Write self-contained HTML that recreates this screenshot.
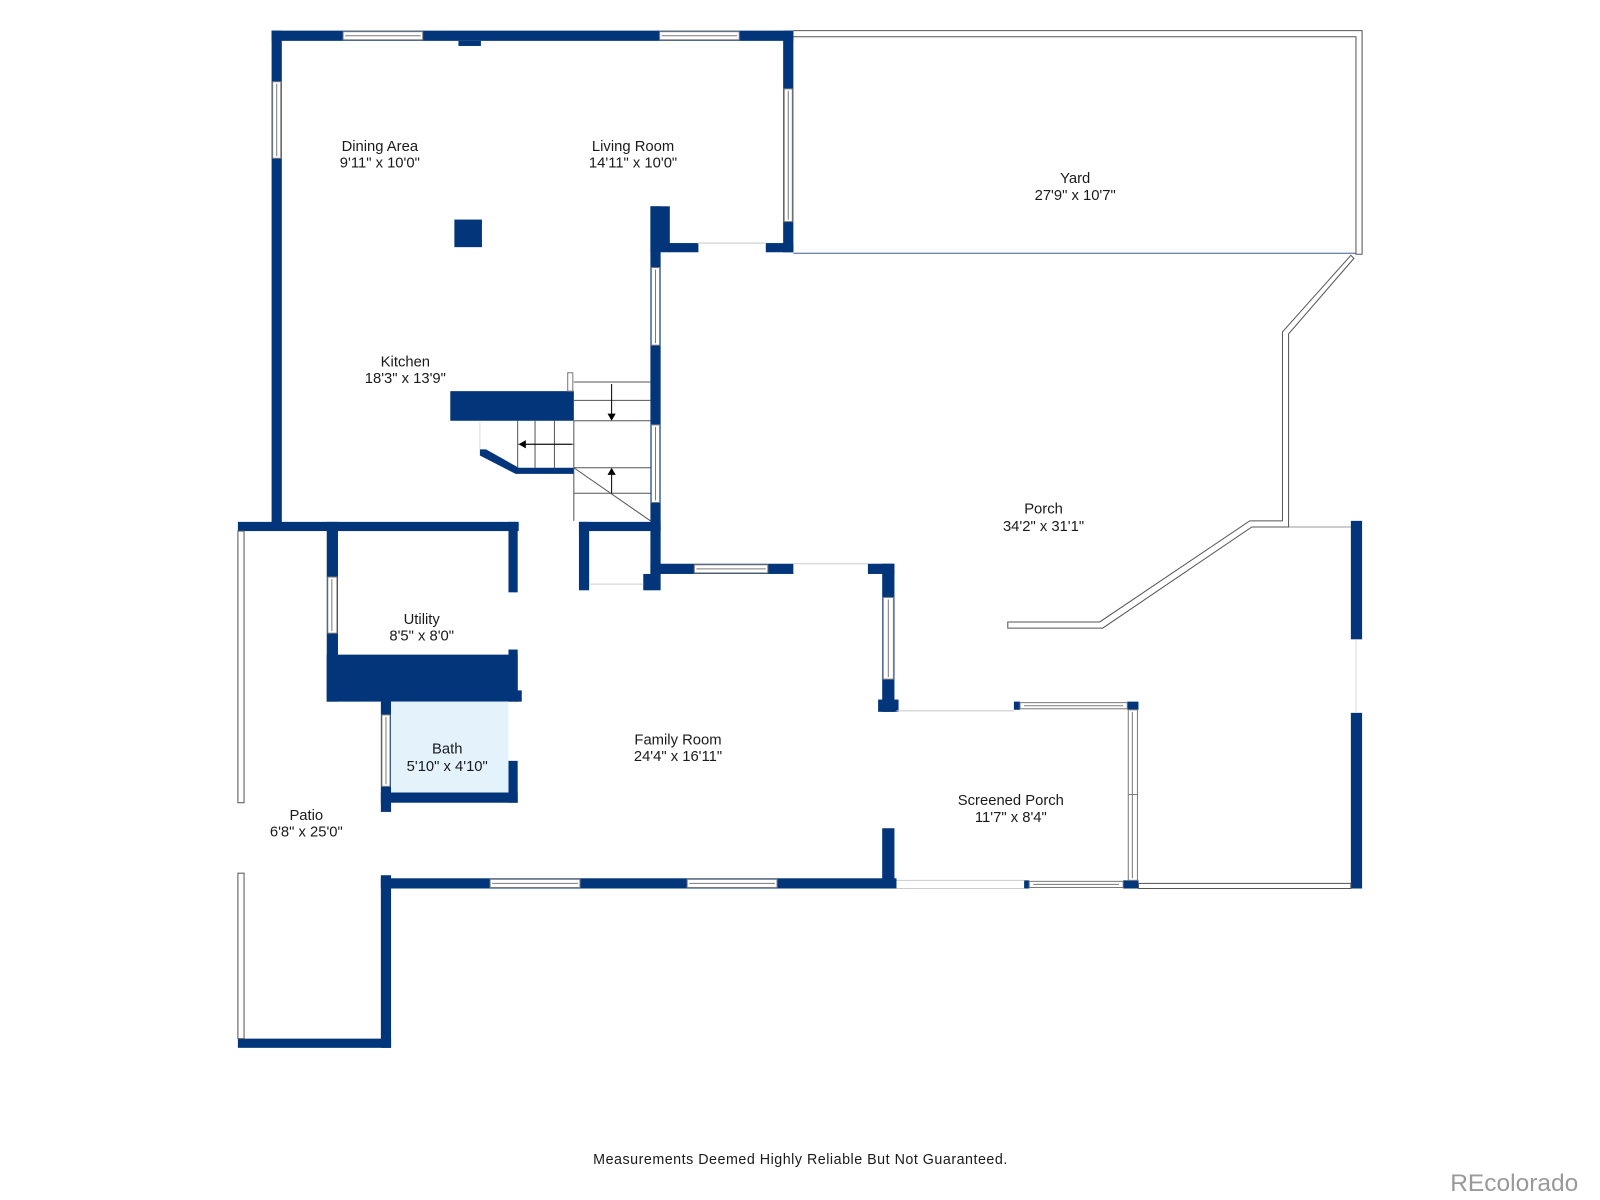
<!DOCTYPE html>
<html><head><meta charset="utf-8"><style>
html,body{margin:0;padding:0;background:#fff;}
svg{display:block}
text{font-family:"Liberation Sans",sans-serif;fill:#1a1a1a;text-anchor:middle}
</style></head><body>
<svg width="1600" height="1200" viewBox="0 0 1567 1175" preserveAspectRatio="none" xmlns="http://www.w3.org/2000/svg">
<g fill="#023579">
<rect x="266" y="30" width="511" height="10"/>
<rect x="266" y="30" width="10" height="487"/>
<rect x="767" y="30" width="10" height="217"/>
<rect x="449" y="40" width="22" height="5"/>
<rect x="655" y="238" width="29" height="9"/>
<rect x="750" y="238" width="27" height="9"/>
<rect x="637" y="202" width="19" height="45"/>
<rect x="637" y="202" width="10" height="360"/>
<rect x="445" y="215" width="27" height="27"/>
<rect x="441" y="383" width="121" height="29"/>
<polygon points="470,440 476,440 508,458 562,458 562,464 505,464 470,446"/>
<rect x="233" y="511" width="275" height="9"/>
<rect x="320" y="511" width="11" height="176"/>
<rect x="498" y="511" width="9" height="69"/>
<rect x="498" y="636" width="9" height="51"/>
<rect x="320" y="641" width="187" height="46"/>
<rect x="505" y="676" width="6" height="11"/>
<rect x="373" y="685" width="10" height="110"/>
<rect x="498" y="745" width="9" height="41"/>
<rect x="373" y="776" width="134" height="10"/>
<rect x="567" y="511" width="80" height="9"/>
<rect x="567" y="511" width="10" height="67"/>
<rect x="630" y="562" width="17" height="16"/>
<rect x="637" y="552" width="140" height="10"/>
<rect x="850" y="552" width="26" height="10"/>
<rect x="864" y="552" width="12" height="145"/>
<rect x="860" y="685" width="20" height="12"/>
<rect x="864" y="811" width="12" height="59"/>
<rect x="373" y="860" width="505" height="10"/>
<rect x="373" y="857" width="10" height="169"/>
<rect x="233" y="1017" width="150" height="9"/>
<rect x="993" y="687" width="6" height="8"/>
<rect x="1104" y="687" width="11" height="8"/>
<rect x="1003" y="862" width="5" height="8"/>
<rect x="1100" y="862" width="15" height="8"/>
<rect x="1323" y="510" width="11" height="116"/>
<rect x="1323" y="698" width="11" height="172"/>
</g>
<rect x="383" y="687" width="115" height="89" fill="#e3f2fb"/>
<g fill="#fff" stroke="#7a7a7a" stroke-width="1">
<rect x="336" y="31" width="78" height="8"/><line x1="338" y1="35" x2="412" y2="35"/>
<rect x="646" y="31" width="78" height="8"/><line x1="648" y1="35" x2="722" y2="35"/>
<rect x="267" y="80" width="8" height="75"/><line x1="271" y1="82" x2="271" y2="153"/>
<rect x="768" y="87" width="8" height="130"/><line x1="772" y1="89" x2="772" y2="215"/>
<rect x="638" y="262" width="8" height="76"/><line x1="642" y1="264" x2="642" y2="336"/>
<rect x="638" y="416" width="8" height="76"/><line x1="642" y1="418" x2="642" y2="490"/>
<rect x="321" y="565" width="9" height="55"/><line x1="325" y1="567" x2="325" y2="618"/>
<rect x="374" y="700" width="8" height="70"/><line x1="378" y1="702" x2="378" y2="768"/>
<rect x="680" y="553" width="72" height="8"/><line x1="682" y1="557" x2="750" y2="557"/>
<rect x="865" y="585" width="10" height="80"/><line x1="870" y1="587" x2="870" y2="663"/>
<rect x="480" y="861" width="88" height="8"/><line x1="482" y1="865" x2="566" y2="865"/>
<rect x="673" y="861" width="88" height="8"/><line x1="675" y1="865" x2="759" y2="865"/>
<rect x="999" y="688" width="105" height="6"/><line x1="1003" y1="691" x2="1100" y2="691"/>
<rect x="1105" y="695" width="9" height="167"/><line x1="1109" y1="697" x2="1109" y2="860"/><line x1="1105" y1="778" x2="1114" y2="778"/>
<rect x="1008" y="863" width="92" height="6"/><line x1="1012" y1="866" x2="1096" y2="866"/>
</g>
<g fill="none" stroke="#555" stroke-width="1">
<polyline points="777,30 1334,30 1334,249 1328,249 1328,36 777,36"/>
<line x1="777" y1="248" x2="1328" y2="248" stroke="#3a5f8f"/>
<rect x="233" y="520" width="6" height="266"/>
<rect x="233" y="855" width="6" height="162"/>
<rect x="1115" y="865" width="208" height="5"/>
<line x1="1262" y1="516" x2="1323" y2="516" stroke="#999"/>
<polygon points="987,609 1077,609 1224,510 1256,510 1256,325 1323,250 1326,253 1262,327 1262,516 1226,516 1080,615 987,615"/>
<line x1="683" y1="238" x2="750" y2="238" stroke="#ccc"/>
<line x1="777" y1="552" x2="850" y2="552" stroke="#ccc"/>
<line x1="878" y1="696" x2="993" y2="696" stroke="#ccc"/>
<line x1="878" y1="862" x2="1003" y2="862" stroke="#ccc"/>
<line x1="878" y1="870" x2="1003" y2="870" stroke="#ccc"/>
<line x1="1328" y1="626" x2="1328" y2="698" stroke="#ddd"/>
<line x1="578" y1="572" x2="630" y2="572" stroke="#ccc"/>
<rect x="556" y="365" width="5" height="18" stroke="#777"/>
<line x1="562" y1="374" x2="637" y2="374"/>
<line x1="562" y1="392" x2="637" y2="392"/>
<line x1="562" y1="412" x2="637" y2="412"/>
<line x1="562" y1="412" x2="562" y2="510"/>
<line x1="507" y1="412" x2="507" y2="458"/>
<line x1="524" y1="412" x2="524" y2="458"/>
<line x1="543" y1="412" x2="543" y2="458"/>
<line x1="507" y1="435" x2="562" y2="435"/>
<line x1="562" y1="458" x2="637" y2="458"/>
<line x1="562" y1="483" x2="637" y2="483"/>
<line x1="562" y1="458" x2="637" y2="510"/>
<line x1="470" y1="412" x2="470" y2="440" stroke="#ddd"/>
<line x1="599" y1="376" x2="599" y2="406" stroke="#000"/>
<line x1="560" y1="435" x2="512" y2="435" stroke="#000"/>
<line x1="599" y1="483" x2="599" y2="464" stroke="#000"/>
</g>
<g fill="#000">
<polygon points="595,405 603,405 599,412"/>
<polygon points="515,431 515,439 508,435"/>
<polygon points="595,465 603,465 599,458"/>
</g>
<g font-size="14.5">
<text x="372" y="148">Dining Area</text><text x="372" y="164">9'11" x 10'0"</text>
<text x="620" y="148">Living Room</text><text x="620" y="164">14'11" x 10'0"</text>
<text x="1053" y="179">Yard</text><text x="1053" y="196">27'9" x 10'7"</text>
<text x="397" y="359">Kitchen</text><text x="397" y="375">18'3" x 13'9"</text>
<text x="1022" y="503">Porch</text><text x="1022" y="520">34'2" x 31'1"</text>
<text x="413" y="611">Utility</text><text x="413" y="627">8'5" x 8'0"</text>
<text x="664" y="729">Family Room</text><text x="664" y="745">24'4" x 16'11"</text>
<text x="438" y="738">Bath</text><text x="438" y="755">5'10" x 4'10"</text>
<text x="300" y="803">Patio</text><text x="300" y="819">6'8" x 25'0"</text>
<text x="990" y="788">Screened Porch</text><text x="990" y="805">11'7" x 8'4"</text>
</g>
<text x="784" y="1140" font-size="14" letter-spacing="0.5">Measurements Deemed Highly Reliable But Not Guaranteed.</text>
<text x="1483" y="1166" font-size="24" style="fill:#9a9a9a">REcolorado</text>
</svg>
</body></html>
